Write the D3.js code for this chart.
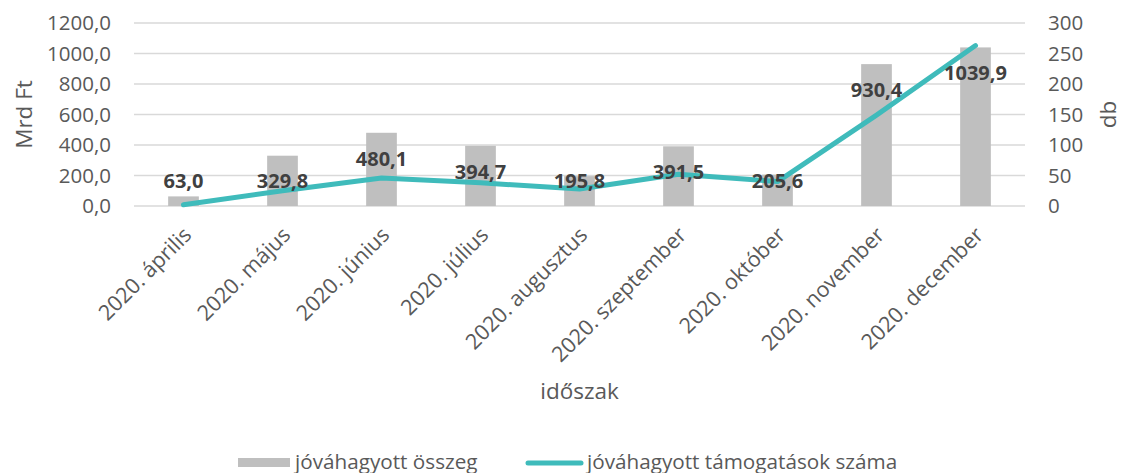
<!DOCTYPE html>
<html><head><meta charset="utf-8">
<script src="https://cdn.jsdelivr.net/npm/d3@7"></script>
<style>
body{margin:0;background:#fff;}
text{font-family:"Open Sans",sans-serif;}
</style></head>
<body><svg id="c" width="1121" height="473"></svg>
<script>
const categories = ["2020. április","2020. május","2020. június","2020. július","2020. augusztus","2020. szeptember","2020. október","2020. november","2020. december"];
const amounts = [63.0, 329.8, 480.1, 394.7, 195.8, 391.5, 205.6, 930.4, 1039.9];
const counts = [2, 25, 46, 38, 28, 52, 40, 149, 263];
const leftTicks = [0, 200, 400, 600, 800, 1000, 1200];
const rightTicks = [0, 50, 100, 150, 200, 250, 300];
const seriesNames = ["jóváhagyott összeg", "jóváhagyott támogatások száma"];
const axisTitles = {left: "Mrd Ft", right: "db", bottom: "időszak"};

const svg = d3.select("#c");
const m = {l:134, r:1025, t:23, b:206};
const x = d3.scaleBand().domain(categories).range([m.l, m.r]).padding(0);
const yL = d3.scaleLinear().domain([0,1200]).range([m.b, m.t]);
const yR = d3.scaleLinear().domain([0,300]).range([m.b, m.t]);
const fmt = v => d3.format(".1f")(v).replace(".", ",");
const barColor = "#BFBFBF", lineColor = "#3FBBBB", txt = "#595959";

// gridlines
svg.append("g").selectAll("line").data(leftTicks).join("line")
  .attr("x1", m.l).attr("x2", m.r)
  .attr("y1", d => yL(d)).attr("y2", d => yL(d))
  .attr("stroke", "#D9D9D9").attr("stroke-width", 1.5);

// left axis
const gl = svg.append("g").attr("transform", `translate(${m.l - 23},0)`)
  .call(d3.axisLeft(yL).tickValues(leftTicks).tickFormat(fmt).tickSize(0));
gl.select(".domain").remove();
gl.selectAll("text").attr("fill",txt).style("font-size","20.5px").attr("x", 0);

// right axis
const gr = svg.append("g").attr("transform", `translate(${m.r + 23},0)`)
  .call(d3.axisRight(yR).tickValues(rightTicks).tickFormat(d3.format("d")).tickSize(0));
gr.select(".domain").remove();
gr.selectAll("text").attr("fill",txt).style("font-size","20.5px").attr("x", 0);

// bars
const bw = x.bandwidth()*0.31;
svg.append("g").selectAll("rect").data(amounts).join("rect")
  .attr("x", (d,i) => x(categories[i]) + x.bandwidth()/2 - bw/2)
  .attr("width", bw)
  .attr("y", d => yL(d)).attr("height", d => yL(0) - yL(d))
  .attr("fill", barColor);

// line
const line = d3.line().x((d,i) => x(categories[i]) + x.bandwidth()/2).y(d => yR(d));
svg.append("path").datum(counts).attr("d", line)
  .attr("fill","none").attr("stroke", lineColor).attr("stroke-width", 5)
  .attr("stroke-linecap","round").attr("stroke-linejoin","round");

// data labels
svg.append("g").selectAll("text").data(amounts).join("text")
  .attr("x", (d,i) => x(categories[i]) + x.bandwidth()/2)
  .attr("y", d => Math.min(yL(d) + 33, 188))
  .attr("text-anchor","middle").attr("fill","#404040")
  .style("font-size","20px").style("font-weight","bold")
  .text(fmt);

// x labels
svg.append("g").selectAll("text").data(categories).join("text")
  .attr("transform", d => `translate(${x(d) + x.bandwidth()/2 + 4},${m.b + 25}) rotate(-45)`)
  .attr("text-anchor","end").attr("dy","0.35em")
  .attr("fill",txt).style("font-size","21.5px")
  .text(d => d);

// axis titles
svg.append("text").attr("transform", `translate(32,${(m.t+m.b)/2}) rotate(-90)`)
  .attr("text-anchor","middle").attr("fill",txt).style("font-size","22.5px").text(axisTitles.left);
svg.append("text").attr("transform", `translate(1116,${(m.t+m.b)/2}) rotate(-90)`)
  .attr("text-anchor","middle").attr("fill",txt).style("font-size","22.5px").text(axisTitles.right);
svg.append("text").attr("x", (m.l+m.r)/2).attr("y", 399)
  .attr("text-anchor","middle").attr("fill",txt).style("font-size","22.5px").text(axisTitles.bottom);

// legend
const lg = svg.append("g");
lg.append("rect").attr("x", 238).attr("y", 458).attr("width", 52).attr("height", 9).attr("fill", barColor);
lg.append("text").attr("x", 295).attr("y", 469).attr("fill",txt).style("font-size","20.7px").text(seriesNames[0]);
lg.append("line").attr("x1", 528).attr("x2", 581).attr("y1", 463).attr("y2", 463)
  .attr("stroke", lineColor).attr("stroke-width", 5).attr("stroke-linecap","round");
lg.append("text").attr("x", 587).attr("y", 469).attr("fill",txt).style("font-size","20.7px").text(seriesNames[1]);
</script></body></html>
